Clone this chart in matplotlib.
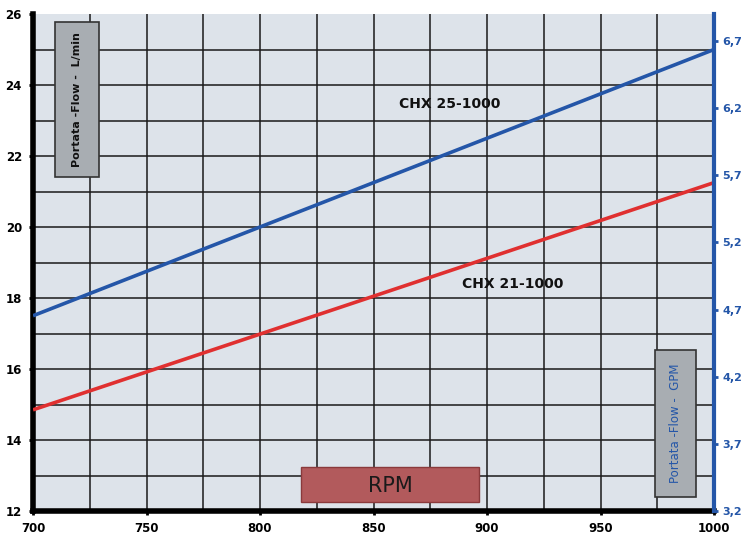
import matplotlib
matplotlib.use("Agg")
import matplotlib.pyplot as plt
from matplotlib.patches import Rectangle
import numpy as np

rpm = [700, 1000]
chx25 = [17.5, 25.0]
chx21 = [14.85, 21.25]
x_ticks = [700, 750, 800, 850, 900, 950, 1000]
y_ticks = [12, 14, 16, 18, 20, 22, 24, 26]
gpm_ticks = [3.2, 3.7, 4.2, 4.7, 5.2, 5.7, 6.2, 6.7]
gpm_labels = ["3,2", "3,7", "4,2", "4,7", "5,2", "5,7", "6,2", "6,7"]

fig = plt.figure(figsize=(7.46, 5.35), dpi=100)
ax = fig.add_axes([33/746, 24/535, 681/746, 497/535])
ax.set_facecolor("#dde3ea")
ax.set_xlim(700, 1000)
ax.set_ylim(12, 26)

for xv in np.arange(725, 1000, 25):
    ax.axvline(xv, color="#1a1a1a", lw=1.1, zorder=1)
for yv in np.arange(13, 26, 1):
    ax.axhline(yv, color="#1a1a1a", lw=1.1, zorder=1)

ax.plot(rpm, chx25, color="#2456a8", lw=2.6, zorder=3, solid_capstyle="butt")
ax.plot(rpm, chx21, color="#e03030", lw=2.6, zorder=3, solid_capstyle="butt")

fig.text(450/746, 1-104/535, "CHX 25-1000", ha="center", va="center",
         fontsize=10, fontweight="bold", color="#111111")
fig.text(513/746, 1-284/535, "CHX 21-1000", ha="center", va="center",
         fontsize=10, fontweight="bold", color="#111111")

ax.set_xticks(x_ticks)
ax.set_xticklabels([str(v) for v in x_ticks], fontsize=8.5, fontweight="bold")
ax.set_yticks(y_ticks)
ax.set_yticklabels([str(v) for v in y_ticks], fontsize=8.5, fontweight="bold")
ax.tick_params(axis="both", length=3, width=2, direction="out", pad=5)

ax.spines["top"].set_visible(False)
ax.spines["left"].set_linewidth(4)
ax.spines["bottom"].set_linewidth(4)
ax.spines["right"].set_visible(False)

ax2 = ax.twinx()
ax2.set_ylim(3.2, 6.9)
ax2.set_yticks(gpm_ticks)
ax2.set_yticklabels(gpm_labels, fontsize=8, fontweight="bold", color="#2456a8")
ax2.tick_params(axis="y", length=3, width=2, color="#2456a8", pad=3)
ax2.spines["right"].set_color("#2456a8")
ax2.spines["right"].set_linewidth(3)
for s in ["top", "left", "bottom"]:
    ax2.spines[s].set_visible(False)

# left label box
fig.patches.append(Rectangle((55/746, 1-177/535), 44/746, 155/535, transform=fig.transFigure,
                             facecolor="#a8adb2", edgecolor="#333333", lw=1.2, zorder=5))
fig.text(77/746, 1-99.5/535, "Portata -Flow -  L/min", rotation=90, ha="center", va="center",
         fontsize=8, fontweight="bold", color="#111111", zorder=6)

# right label box
fig.patches.append(Rectangle((655/746, 1-497/535), 41/746, 147/535, transform=fig.transFigure,
                             facecolor="#a8adb2", edgecolor="#333333", lw=1.2, zorder=5))
fig.text(675.5/746, 1-423.5/535, "Portata -Flow -  GPM", rotation=90, ha="center", va="center",
         fontsize=8.5, color="#2456a8", zorder=6)

# RPM box
fig.patches.append(Rectangle((301/746, 1-502/535), 178/746, 35/535, transform=fig.transFigure,
                             facecolor="#b25a5c", edgecolor="#8a3a3c", lw=1, zorder=5))
fig.text(390/746, 1-486/535, "RPM", ha="center", va="center", fontsize=15, color="#1a1a1a", zorder=6)

fig.savefig("out.png", dpi=100)
